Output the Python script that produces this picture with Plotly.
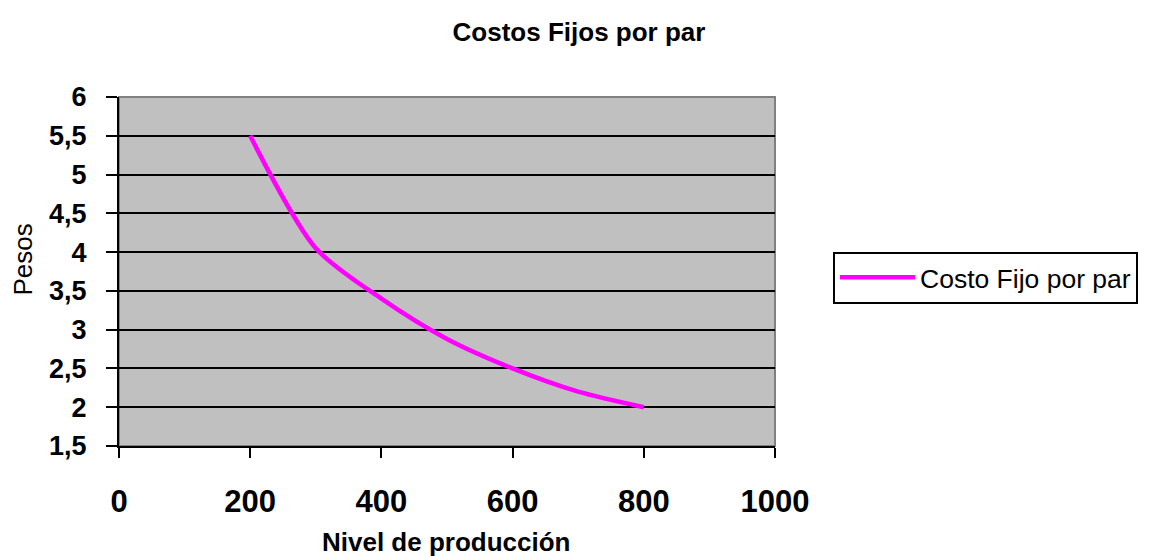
import plotly.graph_objects as go

nivel = [200, 300, 400, 500, 600, 700, 800]
costo = [5.5, 4.05, 3.4, 2.88, 2.5, 2.2, 2.0]
serie = "Costo Fijo por par"
x_ticks = [0, 200, 400, 600, 800, 1000]
y_ticks = [1.5, 2, 2.5, 3, 3.5, 4, 4.5, 5, 5.5, 6]

FONT = "Liberation Sans, Arial, sans-serif"

# plot area in screen pixels: x 119..775, y 97..446
PX0, PX1, PY0, PY1 = 119, 775, 97, 446
def px(x):
    return (x - PX0) / (PX1 - PX0)
def py(y):
    return (PY1 - y) / (PY1 - PY0)

fig = go.Figure()
fig.add_trace(go.Scatter(
    x=nivel, y=costo, mode="lines", name=serie,
    line=dict(color="#FF00FF", width=4.5, shape="spline", smoothing=0.8),
))

fig.update_layout(
    width=1151, height=559,
    margin=dict(l=111, r=384, t=89, b=121, autoexpand=False),
    paper_bgcolor="white", plot_bgcolor="#C0C0C0",
    separators=",.",
    font=dict(family=FONT, color="black"),
    title=dict(text="<b>Costos Fijos por par</b>", x=571/1151, xanchor="center",
               y=1 - 24/559, yanchor="middle", font=dict(size=26)),
    showlegend=True,
    legend=dict(x=px(833), xanchor="left", y=py(277.5), yanchor="middle",
                bordercolor="black", borderwidth=2, bgcolor="white",
                font=dict(size=26.5), itemwidth=75),
    shapes=[dict(type="rect", xref="x domain", yref="y domain", x0=0, x1=1, y0=0, y1=1,
                 line=dict(color="#808080", width=2), layer="below")],
    annotations=[
        dict(text="<b>Nivel de producción</b>", xref="paper", yref="paper",
             x=px(446.5), y=py(542), xanchor="center", yanchor="middle",
             showarrow=False, font=dict(size=26)),
        dict(text="Pesos", xref="paper", yref="paper",
             x=px(22.5), y=py(260), xanchor="center", yanchor="middle",
             textangle=-90, showarrow=False, font=dict(size=26)),
    ],
)
fig.update_xaxes(range=[0, 1000], tickvals=x_ticks, showgrid=False, zeroline=False,
                 automargin=False,
                 showline=True, linecolor="black", linewidth=2,
                 ticks="outside", ticklen=10, tickwidth=2, tickcolor="black",
                 ticklabelstandoff=17,
                 tickfont=dict(size=31, weight="bold"))
fig.update_yaxes(range=[1.5, 6], tickvals=y_ticks, showgrid=True, gridcolor="black", gridwidth=2,
                 automargin=False,
                 zeroline=False, showline=True, linecolor="black", linewidth=2,
                 ticks="outside", ticklen=11, tickwidth=2, tickcolor="black",
                 ticklabelstandoff=14,
                 tickfont=dict(size=27, weight="bold"))

fig.write_html("out.html")
